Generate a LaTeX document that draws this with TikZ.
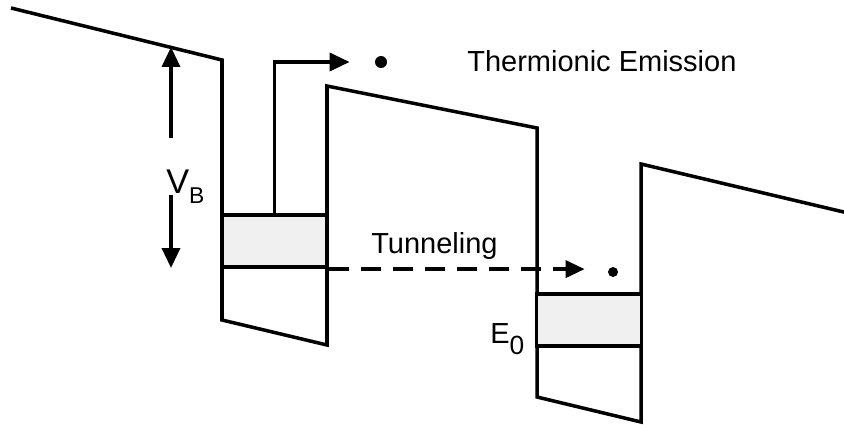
\documentclass[tikz,border=0pt]{standalone}
\usepackage{fontspec}
\setmainfont{Liberation Sans}
\usetikzlibrary{arrows.meta,positioning,calc}

\newcommand{\lowsub}[2]{\raisebox{#1}{\fontsize{13}{13}\selectfont #2}}

\tikzset{
  band/.style={line width=2pt, line join=miter},
  wellbox/.style={draw, fill=black!6, minimum width=21mm, minimum height=10.4mm, inner sep=0pt},
  bigarrow/.style={line width=2pt, -{Triangle[length=4mm,width=3.6mm]}},
  electron/.style={circle, fill=black, inner sep=0pt, minimum size=2.4mm},
  label/.style={anchor=base west, inner sep=0pt}
}

\begin{document}
\begin{tikzpicture}[x=0.2mm, y=-0.2mm, font=\fontsize{16.5}{19}\selectfont]
\useasboundingbox (0,0) rectangle (844,425);
% conduction band edge
\draw[band] (11,8) -- (222,60) -- (222,320) -- (327,345) -- (327,86)
  -- (537,128) -- (537,397) -- (641,422) -- (641,164) -- (850,213.5);
% quantum well states
\node[wellbox, line width=2.4pt] (well1) at (274.5,241) {};
\node[wellbox, line width=1.8pt] (well2) at (589,320) {};
% thermionic emission
\node[electron] (dot1) at (381,62) {};
\node[label] (thermo) at (467,72) {Thermionic Emission};
\draw[bigarrow] (well1.north) |- ([xshift=-5mm]dot1.west);
% tunneling
\node[electron, minimum size=2mm] (dot2) at (613,272) {};
\node[label] (tunnel) at (371,253) {Tunneling};
\draw[line width=2pt, dash pattern=on 4mm off 2.4mm, -{Triangle[length=3.8mm,width=3.4mm]}]
  (well1.south east) -- ([xshift=-4.6mm]dot2.west |- well1.south east);
% barrier height
\node[label] (vb) at (166,193) {{\fontsize{19.5}{20}\selectfont V}\lowsub{-5.7pt}{B}};
\coordinate (vbtop) at (171,47);
\coordinate (vbbot) at (171,268);
\draw[bigarrow] (171,138) -- (vbtop);
\draw[bigarrow] (171,195) -- (vbbot);
% ground state
\node[label] (e0) at (490,343) {E\lowsub{-6.8pt}{\fontsize{15}{15}\selectfont 0}};
\end{tikzpicture}
\end{document}
